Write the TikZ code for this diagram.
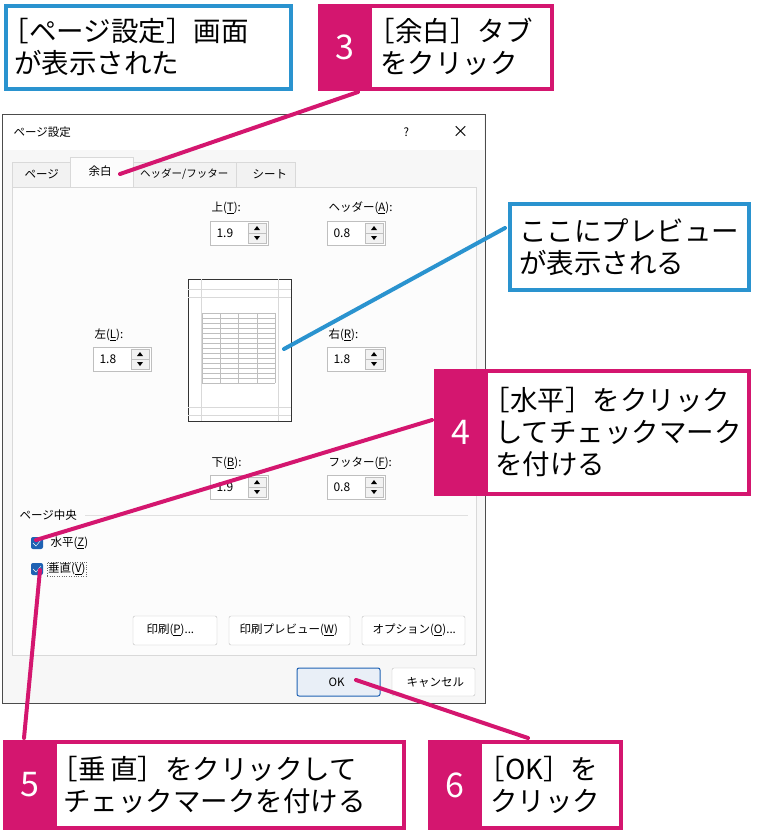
\documentclass[tikz,border=0pt]{standalone}
\usepackage{fontspec}
\setmainfont{Noto Sans CJK JP}
\definecolor{mag}{HTML}{D4166F}
\definecolor{cblue}{HTML}{2A93CF}
\definecolor{winblue}{HTML}{1F62B3}
\newcommand{\lb}{\hspace*{-0.45em}［}
\tikzset{
  callout/.style={draw=#1, line width=4pt, fill=white, inner sep=0pt},
  calltext/.style={font=\fontsize{27.5}{32}\selectfont, align=left, anchor=west, inner sep=0pt},
  numbox/.style={fill=mag, inner sep=0pt},
  numtext/.style={font=\fontsize{34}{34}\selectfont, text=white},
  dlg/.style={font=\fontsize{11.5}{13}\selectfont, anchor=west},
  spin/.style={draw=black!25, fill=white},
  btn/.style={draw=black!25, fill=white, rounded corners=2pt},
  lead/.style={line width=4pt, line cap=round},
}
\newcommand{\spinbox}[3]{%
  \draw[spin] (#1,#2) rectangle ++(58,24);
  \draw[black!25, fill=black!5] (#1+38,#2+2) rectangle ++(18,20);
  \draw[black!25] (#1+38,#2+12) -- ++(18,0);
  \fill (#1+44,#2+9) -- ++(6,0) -- ++(-3,-4) -- cycle;
  \fill (#1+44,#2+15) -- ++(6,0) -- ++(-3,4) -- cycle;
  \node[dlg, font=\fontsize{12}{14}\selectfont] at (#1+3,#2+12) {#3};
}
\begin{document}
\begin{tikzpicture}[x=1pt, y=-1pt]
\useasboundingbox (0,0) rectangle (783,833);
% dialog
\draw[black!70, fill=black!3] (2,114) rectangle (485,703);
\fill[white] (3,115) rectangle (484,150);
\node[dlg] (title) at (10,132) {ページ設定};
\node[dlg] (help) at (400,132) {?};
\node[dlg, font=\fontsize{16}{16}\selectfont] (close) at (449,132) {×};
\draw[black!15, fill=black!1] (12,187) rectangle (476,655);
\draw[black!15, fill=black!5] (12,162) rectangle (70,187);
\draw[black!15, fill=black!1] (70,157) rectangle (133,187);
\draw[black!15, fill=black!5] (133,162) rectangle (236,187);
\draw[black!15, fill=black!5] (236,162) rectangle (295,187);
\node[dlg] (tpage) at (21,174) {ページ};
\node[dlg] (tmargin) at (85,171) {余白};
\node[dlg, font=\fontsize{10.5}{12}\selectfont, inner sep=0pt] (thead) at (140,174) {ヘッダー/フッター};
\node[dlg] (tsheet) at (249,174) {シート};
% fields
\node[dlg] (top) at (208,208) {上(\underline{T}):};
\spinbox{210}{221}{1.9}
\node[dlg] (header) at (325,208) {ヘッダー(\underline{A}):};
\spinbox{327}{221}{0.8}
\node[dlg] (left) at (91,335) {左(\underline{L}):};
\spinbox{93}{347}{1.8}
\node[dlg] (right) at (325,335) {右(\underline{R}):};
\spinbox{327}{347}{1.8}
\node[dlg] (bottom) at (208,463) {下(\underline{B}):};
\spinbox{210}{475}{1.9}
\node[dlg] (footer) at (325,463) {フッター(\underline{F}):};
\spinbox{327}{475}{0.8}
% preview page
\draw[black!80, fill=white] (188,279) rectangle (291,421);
\draw[black!15] (201,279) -- (201,421) (278,279) -- (278,421)
  (188,289) -- (291,289) (188,297) -- (291,297) (188,407) -- (291,407) (188,415) -- (291,415);
\foreach \y in {0,...,14} \draw[black!25] (202,{313+5*\y}) -- (275,{313+5*\y});
\foreach \x in {202,220,238,257,275} \draw[black!25] (\x,313) -- (\x,383);
% page center
\node[dlg] (center) at (16,515) {ページ中央};
\draw[black!12] (85,515) -- (468,515);
\node[fill=winblue, minimum size=12pt, inner sep=0pt, rounded corners=2pt] (chkh) at (37,543) {};
\node[dlg] (horiz) at (47,543) {水平(\underline{Z})};
\node[fill=winblue, minimum size=12pt, inner sep=0pt, rounded corners=2pt] (chkv) at (37,569) {};
\node[dlg, draw=black!60, dotted, inner sep=1pt] (vert) at (47,569) {垂直(\underline{V})};
\draw[white] (33,543) -- (36,546) -- (41,540) (33,569) -- (36,572) -- (41,566);
% buttons
\draw[btn] (133,616) rectangle (217,645);
\node[dlg] (bprint) at (143,630) {印刷(\underline{P})...};
\draw[btn] (229,616) rectangle (350,645);
\node[dlg] (bprev) at (236,630) {印刷プレビュー(\underline{W})};
\draw[btn] (362,616) rectangle (465,645);
\node[dlg] (bopt) at (369,630) {オプション(\underline{O})...};
\draw[btn, draw=winblue, fill=winblue!10, line width=1pt] (297,668) rectangle (380,696);
\node[dlg] (ok) at (325,682) {OK};
\draw[btn] (392,668) rectangle (475,696);
\node[dlg] (cancel) at (403,682) {キャンセル};
% callouts
\draw[callout=cblue] (6,6) rectangle (291,89);
\node[calltext] (c1) at (14,47) {\lb ページ設定］画面\\が表示された};
\draw[callout=mag] (320,6) rectangle (552,89);
\fill[numbox] (318,4) rectangle (372,91);
\node[numtext] (n3) at (345,47) {3};
\node[calltext] (c3) at (380,47) {\lb 余白］タブ\\をクリック};
\draw[callout=cblue] (510,204) rectangle (749,290);
\node[calltext] (c2) at (519,247) {ここにプレビュー\\が表示される};
\draw[callout=mag] (436,371) rectangle (749,494);
\fill[numbox] (434,369) rectangle (488,496);
\node[numtext] (n4) at (461,432) {4};
\node[calltext] (c4) at (495,432) {\lb 水平］をクリック\\してチェックマーク\\を付ける};
\draw[callout=mag] (5,742) rectangle (404,828);
\fill[numbox] (3,740) rectangle (57,830);
\node[numtext] (n5) at (30,785) {5};
\node[calltext] (c5) at (63,785) {\lb 垂\,直］をクリックして\\チェックマークを付ける};
\draw[callout=mag] (430,742) rectangle (621,828);
\fill[numbox] (428,740) rectangle (482,830);
\node[numtext] (n6) at (455,785) {6};
\node[calltext] (c6) at (490,785) {\lb OK］を\\クリック};
% leaders
\coordinate (p3) at (120,174);
\coordinate (pprev) at (284,349);
\coordinate (p4) at (36,540);
\coordinate (p5) at (40,570);
\coordinate (p6) at (356,680);
\draw[lead, mag] (358,92) -- (p3);
\draw[lead, cblue] (505,228) -- (pprev);
\draw[lead, mag] (432,420) -- (p4);
\draw[lead, mag] (24,738) -- (p5);
\draw[lead, mag] (528,738) -- (p6);
\end{tikzpicture}
\end{document}
